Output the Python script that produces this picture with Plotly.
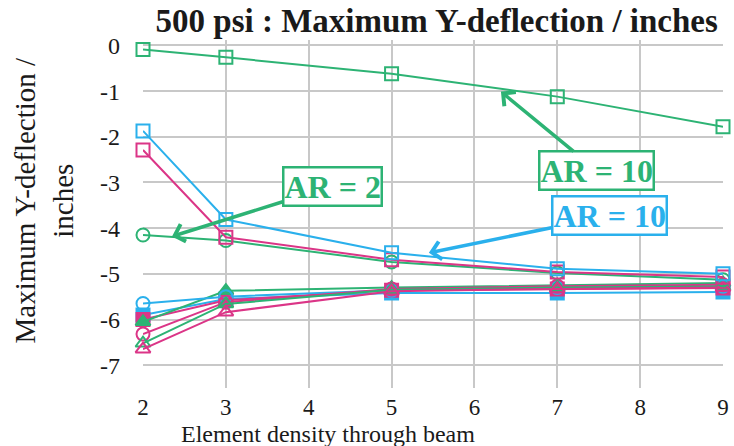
import plotly.graph_objects as go

x_vals = [2, 3, 5, 7, 9]

green_square = [-0.09, -0.26, -0.62, -1.12, -1.78]
blue_square = [-1.87, -3.81, -4.54, -4.89, -5.00]
magenta_square = [-2.29, -4.20, -4.69, -4.96, -5.07]
green_circle = [-4.15, -4.27, -4.74, -4.98, -5.13]
blue_circle = [-5.65, -5.50, -5.36, -5.30, -5.27]
blue_filled = [-5.90, -5.55, -5.42, -5.42, -5.40]
magenta_filled = [-6.00, -5.58, -5.36, -5.33, -5.31]
green_filled = [-6.05, -5.37, -5.30, -5.25, -5.20]
magenta_circle = [-6.32, -5.62, -5.33, -5.27, -5.24]
green_triangle = [-6.52, -5.66, -5.35, -5.30, -5.28]
magenta_triangle = [-6.65, -5.84, -5.38, -5.33, -5.30]

x_ticks = [2, 3, 4, 5, 6, 7, 8, 9]
y_ticks = [0, -1, -2, -3, -4, -5, -6, -7]

GREEN = "#2DB374"
BLUE = "#2AB0EC"
MAGENTA = "#DB3587"

series = [
    (blue_filled, BLUE, "square"),
    (magenta_filled, MAGENTA, "square"),
    (green_filled, GREEN, "triangle-up"),
    (blue_circle, BLUE, "circle-open"),
    (magenta_circle, MAGENTA, "circle-open"),
    (green_triangle, GREEN, "triangle-up-open"),
    (magenta_triangle, MAGENTA, "triangle-up-open"),
    (green_circle, GREEN, "circle-open"),
    (magenta_square, MAGENTA, "square-open"),
    (blue_square, BLUE, "square-open"),
    (green_square, GREEN, "square-open"),
]

fig = go.Figure()
for ys, col, sym in series:
    fig.add_trace(go.Scatter(
        x=x_vals, y=ys, mode="lines+markers",
        line=dict(color=col, width=2),
        marker=dict(symbol=sym, size=13, color=col, line=dict(color=col, width=2)),
        cliponaxis=False, showlegend=False,
    ))

serif = "Liberation Serif"
TXT = "#1a1a1a"

fig.update_layout(
    width=734, height=446,
    margin=dict(l=143, r=5, t=40, b=58),
    plot_bgcolor="white", paper_bgcolor="white",
    title=dict(text="<b>500 psi : Maximum Y-deflection / inches</b>",
               x=0.595, xanchor="center", y=0.955, yanchor="middle",
               font=dict(family=serif, size=33, color=TXT)),
    font=dict(family=serif, size=22, color=TXT),
)
fig.update_xaxes(
    range=[2, 9], tickvals=x_ticks, ticktext=[str(v) for v in x_ticks],
    showgrid=True, gridcolor="#c8c8c8", gridwidth=2,
    zeroline=False, showline=False, ticklabelstandoff=3,
    ticklabeloverflow="allow",
    tickfont=dict(family=serif, size=23, color=TXT),
)
fig.update_yaxes(
    range=[-7.5, 0.12], tickvals=y_ticks, ticktext=[str(v) for v in y_ticks],
    showgrid=True, gridcolor="#c8c8c8", gridwidth=2,
    zeroline=False, showline=False, ticklabelstandoff=22,
    tickfont=dict(family=serif, size=24, color=TXT),
)

# axis titles
fig.add_annotation(
    text="Maximum Y-deflection /<br>inches", xref="paper", yref="paper",
    x=-0.17, y=0.54, xanchor="center", yanchor="middle", textangle=-90,
    showarrow=False, font=dict(family=serif, size=29, color=TXT),
)
fig.add_annotation(
    text="Element density through beam", xref="paper", yref="paper",
    x=0.319, y=-0.132, xanchor="center", yanchor="middle",
    showarrow=False, font=dict(family=serif, size=24, color=TXT),
)

def box_ann(x, y, ax, ay, text, col):
    fig.add_annotation(
        x=x, y=y, xref="x", yref="y", ax=ax, ay=ay, axref="pixel", ayref="pixel",
        text=f"<b>{text}</b>", showarrow=True, arrowhead=4, arrowsize=1,
        arrowwidth=3.5, arrowcolor=col,
        font=dict(family=serif, size=32, color=col),
        bgcolor="white", bordercolor=col, borderwidth=2.5, borderpad=0,
    )

box_ann(2.35, -4.18, 160, -50, "AR = 2", GREEN)
box_ann(6.32, -1.01, 96, 79, "AR = 10", GREEN)
box_ann(5.45, -4.54, 181, -37, "AR = 10", BLUE)

fig.write_html("out.html")
